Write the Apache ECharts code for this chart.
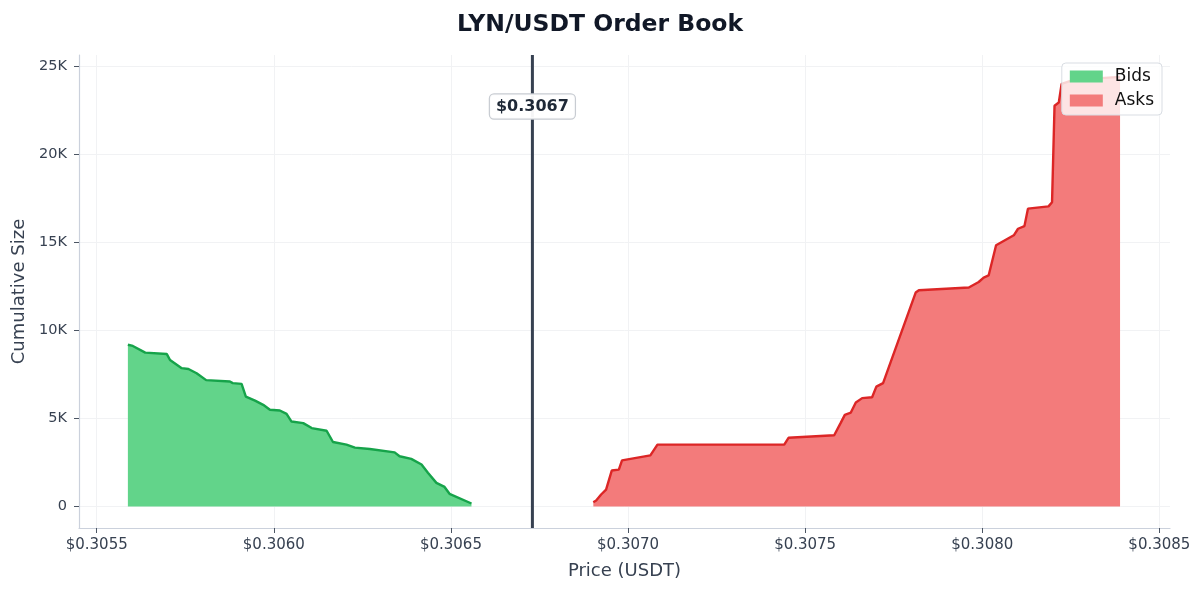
<!DOCTYPE html>
<html lang="en" style="height: 100%">
<head>
  <meta charset="utf-8">
</head>
<body style="height: 100%; margin: 0">
  <div id="container" style="width: 1200px; height: 594px"></div>

  <script type="text/javascript" src="https://cdn.jsdelivr.net/npm/echarts@6/dist/echarts.min.js"></script>

  <script type="text/javascript">
    // cumulative depth
    var bidPrices = [0.305588, 0.305602, 0.305637, 0.305698, 0.305707, 0.305740, 0.305759, 0.305782,
      0.305809, 0.305876, 0.305884, 0.305909, 0.305921, 0.305947, 0.305970, 0.305989, 0.306017,
      0.306036, 0.306050, 0.306083, 0.306107, 0.306149, 0.306167, 0.306205, 0.306229, 0.306271,
      0.306341, 0.306355, 0.306388, 0.306417, 0.306435, 0.306459, 0.306482, 0.306496, 0.306558];
    var bidSizes = [9180, 9110, 8730, 8650, 8310, 7850, 7800, 7560,
      7170, 7090, 7000, 6960, 6240, 6010, 5770, 5490, 5450,
      5260, 4820, 4730, 4450, 4300, 3660, 3510, 3340, 3260,
      3070, 2850, 2700, 2380, 1910, 1340, 1110, 720, 170];

    var askPrices = [0.306902, 0.306910, 0.306924, 0.306938, 0.306954, 0.306974, 0.306983, 0.307063,
      0.307083, 0.307441, 0.307453, 0.307582, 0.307600, 0.307612, 0.307629, 0.307643, 0.307661,
      0.307689, 0.307701, 0.307720, 0.307812, 0.307821, 0.307962, 0.307990, 0.308004, 0.308018,
      0.308039, 0.308089, 0.308101, 0.308119, 0.308129, 0.308187, 0.308197, 0.308204, 0.308216,
      0.308224, 0.308258, 0.308389];
    var askSizes = [240, 340, 680, 960, 2040, 2090, 2620, 2900,
      3510, 3510, 3900, 4040, 4730, 5200, 5330, 5900, 6150,
      6200, 6800, 7000, 12140, 12270, 12430, 12740, 12990, 13110,
      14820, 15390, 15760, 15910, 16900, 17030, 17270, 22740, 22920,
      23980, 24210, 24380];

    var midPrice = 0.30673;
    var midLabel = '$0.3067';
    var xTicks = [0.3055, 0.3060, 0.3065, 0.3070, 0.3075, 0.3080, 0.3085];
    var yTicks = [0, 5000, 10000, 15000, 20000, 25000];
    var xMin = 0.30545, xMax = 0.30853;
    var yMin = -1220, yMax = 25620;

    function zip(xs, ys) {
      return xs.map(function (x, i) { return [x, ys[i]]; });
    }

    var font = 'DejaVu Sans';
    var myChart = echarts.init(document.getElementById('container'), null, { renderer: 'canvas' });

    var option = {
      animation: false,
      backgroundColor: '#ffffff',
      textStyle: { fontFamily: font },
      title: {
        text: 'LYN/USDT Order Book',
        left: 'center',
        top: 8,
        textStyle: { fontFamily: font, fontSize: 23.5, fontWeight: 'bold', color: '#111827' }
      },
      legend: {
        orient: 'vertical',
        right: 38,
        top: 63,
        icon: 'rect',
        itemWidth: 33,
        itemHeight: 12,
        itemGap: 7,
        padding: [5, 8, 6, 8],
        backgroundColor: 'rgba(255,255,255,0.8)',
        borderColor: '#d9dde3',
        borderWidth: 1,
        borderRadius: 4,
        textStyle: { fontFamily: font, fontSize: 17, color: '#111111', padding: [0, 0, 0, 7] },
        data: ['Bids', 'Asks']
      },
      grid: { left: 79, right: 30, top: 55, bottom: 66, containLabel: false },
      xAxis: {
        type: 'value',
        min: xMin,
        max: xMax,
        name: 'Price (USDT)',
        nameLocation: 'middle',
        nameGap: 34,
        nameTextStyle: { fontFamily: font, fontSize: 18, color: '#374151' },
        axisLine: { show: true, onZero: false, lineStyle: { color: '#cbd1dc', width: 1.2 } },
        axisTick: { show: true, length: 5, customValues: xTicks, lineStyle: { color: '#4b5563' } },
        axisLabel: {
          customValues: xTicks,
          margin: 10,
          fontFamily: font, fontSize: 15, color: '#374151',
          formatter: function (v) { return '$' + v.toFixed(4); }
        },
        splitLine: { show: true, lineStyle: { color: '#f1f2f4', width: 1 } }
      },
      yAxis: {
        type: 'value',
        min: yMin,
        max: yMax,
        name: 'Cumulative Size',
        nameLocation: 'middle',
        nameGap: 48,
        nameTextStyle: { fontFamily: font, fontSize: 18, color: '#374151' },
        axisLine: { show: true, lineStyle: { color: '#cbd1dc', width: 1.2 } },
        axisTick: { show: true, length: 5, customValues: yTicks, lineStyle: { color: '#4b5563' } },
        axisLabel: {
          customValues: yTicks,
          margin: 12,
          fontFamily: font, fontSize: 14.5, color: '#374151',
          formatter: function (v) { return v === 0 ? '0' : (v / 1000) + 'K'; }
        },
        splitLine: { show: true, lineStyle: { color: '#f1f2f4', width: 1 } }
      },
      series: [
        {
          name: 'Bids',
          type: 'line',
          data: zip(bidPrices, bidSizes),
          showSymbol: false,
          symbol: 'none',
          itemStyle: { color: '#62d48a' },
          lineStyle: { color: '#16a34a', width: 2.4 },
          areaStyle: { color: '#62d48a', opacity: 1, origin: 0 }
        },
        {
          name: 'Asks',
          type: 'line',
          data: zip(askPrices, askSizes),
          showSymbol: false,
          symbol: 'none',
          itemStyle: { color: '#f37b7b' },
          lineStyle: { color: '#dc2626', width: 2.4 },
          areaStyle: { color: '#f37b7b', opacity: 1, origin: 0 }
        },
        {
          name: 'Mid',
          type: 'line',
          data: [[midPrice, yMin], [midPrice, yMax]],
          showSymbol: false,
          symbol: 'none',
          silent: true,
          z: 3,
          lineStyle: { color: '#374151', width: 3 },
          markPoint: {
            silent: true,
            symbol: 'rect',
            symbolSize: 0,
            data: [{ coord: [midPrice, 22700] }],
            label: {
              show: true,
              position: 'inside',
              formatter: midLabel,
              fontFamily: font,
              fontSize: 16,
              fontWeight: 'bold',
              color: '#1f2937',
              backgroundColor: 'rgba(255,255,255,0.95)',
              borderColor: '#c8ccd2',
              borderWidth: 1.2,
              borderRadius: 4,
              padding: [4, 6]
            }
          }
        }
      ]
    };

    myChart.setOption(option);

    window.addEventListener('resize', function () {
      myChart.resize();
    });
  </script>
</body>
</html>
